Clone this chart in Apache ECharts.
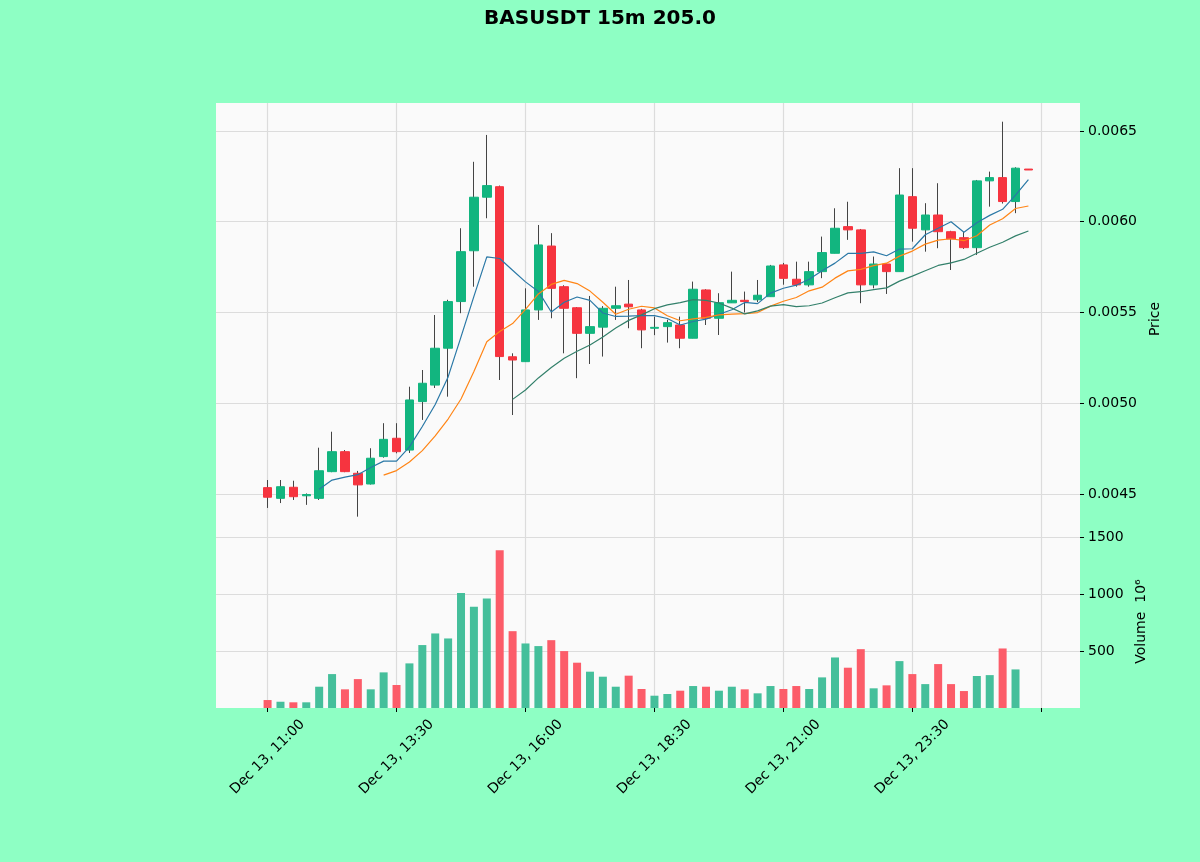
<!DOCTYPE html>
<html>
<head>
<meta charset="utf-8">
<title>BASUSDT 15m</title>
<script src="https://cdn.jsdelivr.net/npm/echarts@6/dist/echarts.min.js"></script>
<style>
  html, body { margin: 0; padding: 0; background: #8effc4; }
  #main { width: 1200px; height: 862px; }
</style>
</head>
<body>
<div id="main"></div>
<script>
// 15m candles, Dec 13 11:00 -> Dec 14 01:45
var opens = [0.004535, 0.004476, 0.004537, 0.004490, 0.004476, 0.004623, 0.004733, 0.004614, 0.004555, 0.004706,
  0.004807, 0.004742, 0.005009, 0.005100, 0.005303, 0.005560, 0.005840, 0.006135, 0.006193, 0.005256,
  0.005229, 0.005514, 0.005866, 0.005642, 0.005526, 0.005385, 0.005419, 0.005523, 0.005546, 0.005514,
  0.005413, 0.005422, 0.005431, 0.005358, 0.005624, 0.005468, 0.005553, 0.005567, 0.005570, 0.005587,
  0.005762, 0.005683, 0.005652, 0.005725, 0.005826, 0.005973, 0.005955, 0.005652, 0.005767, 0.005725,
  0.006138, 0.005955, 0.006037, 0.005945, 0.005912, 0.005857, 0.006225, 0.006243, 0.006111, 0.006290];
var closes = [0.004482, 0.004540, 0.004485, 0.004497, 0.004628, 0.004733, 0.004623, 0.004550, 0.004697, 0.004801,
  0.004733, 0.005018, 0.005110, 0.005303, 0.005560, 0.005835, 0.006135, 0.006199, 0.005257, 0.005238,
  0.005514, 0.005872, 0.005633, 0.005523, 0.005385, 0.005422, 0.005523, 0.005537, 0.005531, 0.005404,
  0.005418, 0.005444, 0.005358, 0.005628, 0.005468, 0.005554, 0.005567, 0.005560, 0.005595, 0.005756,
  0.005688, 0.005652, 0.005725, 0.005830, 0.005964, 0.005955, 0.005652, 0.005767, 0.005725, 0.006147,
  0.005964, 0.006037, 0.005945, 0.005905, 0.005857, 0.006225, 0.006243, 0.006111, 0.006295, 0.006285];
var lows = [0.004423, 0.004450, 0.004467, 0.004440, 0.004467, 0.004620, 0.004620, 0.004375, 0.004552, 0.004700,
  0.004724, 0.004726, 0.004908, 0.005084, 0.005036, 0.005496, 0.005642, 0.006019, 0.005128, 0.004935,
  0.005229, 0.005459, 0.005468, 0.005275, 0.005138, 0.005216, 0.005257, 0.005459, 0.005413, 0.005303,
  0.005375, 0.005334, 0.005303, 0.005358, 0.005431, 0.005376, 0.005553, 0.005500, 0.005557, 0.005587,
  0.005653, 0.005642, 0.005642, 0.005689, 0.005826, 0.005900, 0.005551, 0.005633, 0.005602, 0.005725,
  0.005890, 0.005835, 0.005854, 0.005734, 0.005850, 0.005817, 0.006083, 0.006100, 0.006047, 0.006285];
var highs = [0.004577, 0.004577, 0.004573, 0.004503, 0.004755, 0.004843, 0.004742, 0.004627, 0.004752, 0.004890,
  0.004890, 0.005091, 0.005183, 0.005486, 0.005570, 0.005964, 0.006330, 0.006478, 0.006199, 0.005275,
  0.005633, 0.005982, 0.005937, 0.005650, 0.005530, 0.005591, 0.005535, 0.005642, 0.005679, 0.005520,
  0.005477, 0.005460, 0.005477, 0.005670, 0.005628, 0.005606, 0.005725, 0.005615, 0.005679, 0.005762,
  0.005773, 0.005780, 0.005780, 0.005918, 0.006074, 0.006110, 0.005960, 0.005808, 0.005770, 0.006295,
  0.006295, 0.006102, 0.006212, 0.005950, 0.005945, 0.006230, 0.006276, 0.006551, 0.006300, 0.006290];
// volume in units of 10^6
var volumes = [70, 55, 50, 50, 187, 298, 164, 254, 164, 313,
  202, 392, 553, 655, 611, 1011, 889, 962, 1386, 675,
  567, 544, 596, 500, 398, 319, 275, 187, 284, 167,
  108, 123, 152, 193, 187, 152, 187, 164, 129, 193,
  167, 193, 167, 269, 444, 354, 517, 173, 199, 412,
  298, 210, 386, 210, 149, 281, 289, 523, 339, 0];
var maPeriods = [5, 10, 20];
var tickLabels = ['Dec 13, 11:00', 'Dec 13, 13:30', 'Dec 13, 16:00', 'Dec 13, 18:30', 'Dec 13, 21:00', 'Dec 13, 23:30'];
var priceTicks = [0.0045, 0.0050, 0.0055, 0.0060, 0.0065];
var volumeTicks = [500, 1000, 1500];

var lead = 4;      // empty slots left of the first candle
var slots = 68;    // total category slots on the x axis
var upColor = '#12b57f', downColor = '#f6343f';
var upVol = '#45bf9b', downVol = '#fc5c69';
var maColors = ['#2a78a6', '#ff8516', '#33806b'];

var cats = [];
for (var k = 0; k < slots; k++) cats.push(k);

var wicks = [], bodies = [], vols = [];
for (var i = 0; i < opens.length; i++) {
  wicks.push([i + lead, opens[i], closes[i], lows[i], highs[i]]);
  bodies.push([i + lead, opens[i], closes[i], Math.min(opens[i], closes[i]), Math.max(opens[i], closes[i])]);
  vols.push({
    value: [i + lead, volumes[i]],
    itemStyle: { color: closes[i] >= opens[i] ? upVol : downVol }
  });
}

function movingAvg(n) {
  var out = [];
  for (var i = n - 1; i < closes.length; i++) {
    var s = 0;
    for (var j = 0; j < n; j++) s += closes[i - j];
    out.push([i + lead, s / n]);
  }
  return out;
}

function isTick(index) {
  var idx = index - lead;
  return idx >= 0 && idx % 10 === 0;
}

var font = 'DejaVu Sans';
var myChart = echarts.init(document.getElementById('main'));

var series = [
  {
    name: 'wick', type: 'candlestick', xAxisIndex: 0, yAxisIndex: 0,
    barWidth: 1, encode: { x: 0, y: [1, 2, 3, 4] },
    itemStyle: { color: '#444', color0: '#444', borderColor: '#444', borderColor0: '#444', borderWidth: 1 },
    data: wicks, z: 2
  },
  {
    name: 'body', type: 'candlestick', xAxisIndex: 0, yAxisIndex: 0,
    barWidth: 9, encode: { x: 0, y: [1, 2, 3, 4] },
    itemStyle: { color: upColor, color0: downColor, borderColor: upColor, borderColor0: downColor, borderWidth: 1 },
    data: bodies, z: 3
  },
  {
    name: 'volume', type: 'bar', xAxisIndex: 1, yAxisIndex: 1,
    barWidth: 8, data: vols
  }
];
maPeriods.forEach(function (n, m) {
  series.push({
    name: 'MA' + n, type: 'line', xAxisIndex: 0, yAxisIndex: 0,
    data: movingAvg(n), showSymbol: false, symbol: 'none', smooth: false,
    lineStyle: { color: maColors[m], width: 1.2 }, z: 4
  });
});

var xCommon = {
  type: 'category', data: cats, boundaryGap: false,
  axisLine: { show: false },
  splitLine: { show: true, interval: function (index) { return isTick(index); }, lineStyle: { color: '#dcdcdc', width: 1.2 } }
};

var option = {
  backgroundColor: '#8effc4',
  animation: false,
  title: {
    text: 'BASUSDT 15m 205.0', left: 'center', top: 4,
    textStyle: { fontFamily: font, fontSize: 20, fontWeight: 'bold', color: '#000' }
  },
  grid: [
    { left: 216, width: 864, top: 103, height: 432, show: true, backgroundColor: '#fafafa', borderWidth: 0 },
    { left: 216, width: 864, top: 535, height: 173, show: true, backgroundColor: '#fafafa', borderWidth: 0 }
  ],
  xAxis: [
    echarts.util.merge({
      gridIndex: 0,
      axisTick: { show: false },
      axisLabel: { show: false }
    }, xCommon),
    echarts.util.merge({
      gridIndex: 1,
      axisTick: { show: true, interval: function (index) { return isTick(index); }, length: 4, lineStyle: { color: '#000' } },
      axisLabel: {
        show: true, rotate: 45, margin: 49, align: 'center', verticalAlign: 'middle',
        fontFamily: font, fontSize: 14, color: '#000',
        interval: function (index) { var idx = index - lead; return idx >= 0 && idx % 10 === 0 && idx / 10 < tickLabels.length; },
        formatter: function (v, index) { return tickLabels[(index - lead) / 10]; }
      }
    }, xCommon)
  ],
  yAxis: [
    {
      gridIndex: 0, type: 'value', position: 'right', scale: true,
      min: 0.004274, max: 0.006654, splitNumber: 5,
      name: 'Price', nameLocation: 'middle', nameRotate: 90, nameGap: 66,
      nameTextStyle: { fontFamily: font, fontSize: 14, color: '#000' },
      axisLine: { show: false },
      axisTick: { show: true, length: 4, lineStyle: { color: '#000' }, customValues: priceTicks },
      axisLabel: {
        fontFamily: font, fontSize: 14, color: '#000', margin: 8, customValues: priceTicks,
        formatter: function (v) { return v.toFixed(4); }
      },
      splitLine: { show: true, lineStyle: { color: '#dcdcdc', width: 1.2 } }
    },
    {
      gridIndex: 1, type: 'value', position: 'right',
      min: 0, max: 1520, interval: 500,
      name: 'Volume  10\u2076', nameLocation: 'middle', nameRotate: 90, nameGap: 50,
      nameTextStyle: { fontFamily: font, fontSize: 14, color: '#000' },
      axisLine: { show: false },
      axisTick: { show: true, length: 4, lineStyle: { color: '#000' }, customValues: volumeTicks },
      axisLabel: {
        fontFamily: font, fontSize: 14, color: '#000', margin: 8, customValues: volumeTicks,
        formatter: function (v) { return String(v); }
      },
      splitLine: { show: true, lineStyle: { color: '#dcdcdc', width: 1.2 } }
    }
  ],
  series: series
};

myChart.setOption(option);
window.addEventListener('resize', function () {
  myChart.resize();
});
</script>
</body>
</html>
